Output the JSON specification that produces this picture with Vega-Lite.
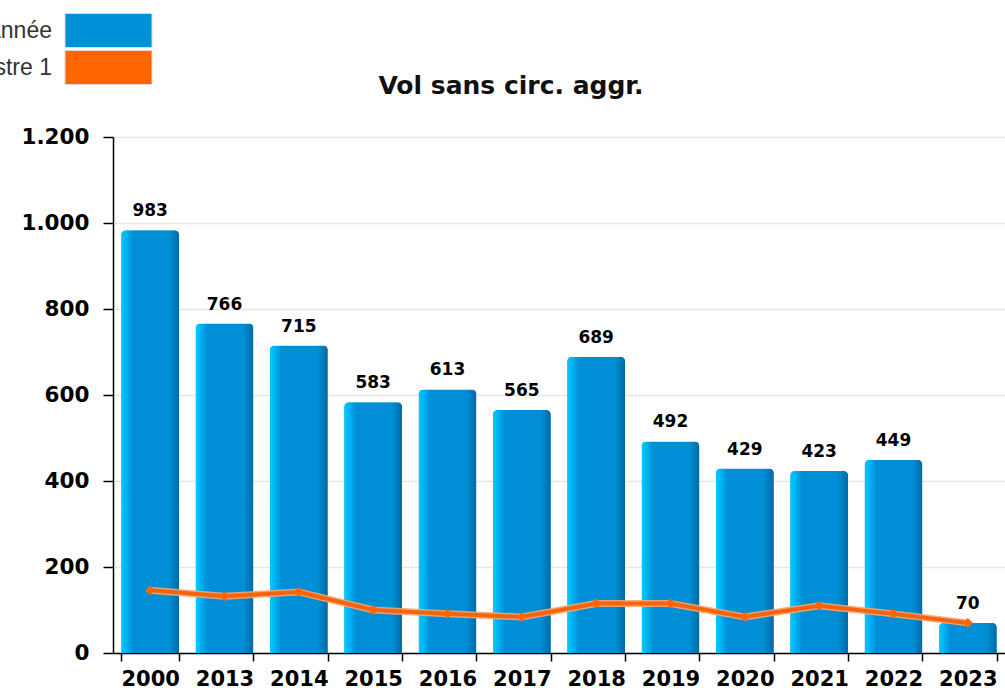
{
  "$schema": "https://vega.github.io/schema/vega-lite/v6.json",
  "width": 892,
  "height": 516,
  "autosize": {"type": "none"},
  "padding": {"left": 113, "top": 137, "right": 0, "bottom": 35},
  "background": "white",
  "title": {
    "text": "Vol sans circ. aggr.",
    "font": "DejaVu Sans",
    "fontSize": 25,
    "fontWeight": "bold",
    "color": "#111111",
    "frame": "group",
    "anchor": "middle",
    "dx": -48,
    "offset": -86
  },
  "data": {
    "values": [
      {"annee": "2000", "valeur": 983, "t1": 146},
      {"annee": "2013", "valeur": 766, "t1": 132},
      {"annee": "2014", "valeur": 715, "t1": 142},
      {"annee": "2015", "valeur": 583, "t1": 100},
      {"annee": "2016", "valeur": 613, "t1": 91},
      {"annee": "2017", "valeur": 565, "t1": 84},
      {"annee": "2018", "valeur": 689, "t1": 115},
      {"annee": "2019", "valeur": 492, "t1": 115},
      {"annee": "2020", "valeur": 429, "t1": 84},
      {"annee": "2021", "valeur": 423, "t1": 110},
      {"annee": "2022", "valeur": 449, "t1": 91},
      {"annee": "2023", "valeur": 70, "t1": 70}
    ]
  },
  "encoding": {
    "x": {
      "field": "annee",
      "type": "nominal",
      "sort": null,
      "scale": {"paddingInner": 0.22, "paddingOuter": 0.11},
      "axis": {
        "title": null,
        "labelAngle": 0,
        "tickBand": "extent",
        "tickSize": 8,
        "tickWidth": 1.5,
        "tickColor": "black",
        "domainColor": "black",
        "domainWidth": 1.5,
        "labelFont": "DejaVu Sans",
        "labelFontSize": 21,
        "labelFontWeight": "bold",
        "labelColor": "black",
        "labelPadding": 7,
        "grid": false
      }
    }
  },
  "layer": [
    {
      "mark": {"type": "bar", "cornerRadiusTopLeft": 5, "cornerRadiusTopRight": 5},
      "encoding": {
        "y": {
          "field": "valeur",
          "type": "quantitative",
          "scale": {"domain": [0, 1200]},
          "axis": {
            "title": null,
            "values": [0, 200, 400, 600, 800, 1000, 1200],
            "labelExpr": "replace(format(datum.value, ','), ',', '.')",
            "tickSize": 10,
            "tickWidth": 1.5,
            "tickColor": "black",
            "domainColor": "black",
            "domainWidth": 1.5,
            "labelFont": "DejaVu Sans",
            "labelFontSize": 21.5,
            "labelFontWeight": "bold",
            "labelColor": "black",
            "labelPadding": 14,
            "grid": true,
            "gridColor": "#e6e6e6",
            "gridWidth": 1.5
          }
        },
        "color": {
          "datum": "Année",
          "type": "nominal",
          "scale": {"domain": ["Année", "Trimestre 1"], "range": ["#0090d8", "#ff6600"]},
          "legend": {
            "title": null,
            "orient": "none",
            "legendX": -113,
            "legendY": -124,
            "symbolType": "M-2.56,-1H2.56V1H-2.56Z",
            "symbolSize": 1156,
            "symbolOffset": 91,
            "labelAlign": "right",
            "labelOffset": -74,
            "rowPadding": -6,
            "padding": 0,
            "labelFont": "Liberation Sans",
            "labelFontSize": 23,
            "labelColor": "#333333",
            "symbolStrokeColor": "#dddddd",
            "symbolStrokeWidth": 1,
            "symbolOpacity": 1
          }
        }
      }
    },
    {
      "mark": {
        "type": "bar",
        "cornerRadiusTopLeft": 5,
        "cornerRadiusTopRight": 5,
        "color": {
          "gradient": "linear",
          "x1": 0, "y1": 0, "x2": 1, "y2": 0,
          "stops": [
            {"offset": 0, "color": "#00ccff"},
            {"offset": 0.1, "color": "#00b0f2"},
            {"offset": 0.2, "color": "#008fd6"},
            {"offset": 0.82, "color": "#008fd6"},
            {"offset": 1, "color": "#006aa3"}
          ]
        }
      },
      "encoding": {
        "y": {"field": "valeur", "type": "quantitative"}
      }
    },
    {
      "mark": {
        "type": "text",
        "font": "DejaVu Sans",
        "fontSize": 17,
        "fontWeight": "bold",
        "color": "black",
        "baseline": "alphabetic",
        "dy": -14
      },
      "encoding": {
        "y": {"field": "valeur", "type": "quantitative"},
        "text": {"field": "valeur", "type": "quantitative"}
      }
    },
    {
      "mark": {"type": "line", "color": "#ffa366", "strokeWidth": 7, "opacity": 0.9},
      "encoding": {
        "y": {"field": "t1", "type": "quantitative"}
      }
    },
    {
      "mark": {"type": "line", "color": "#f46410", "strokeWidth": 4},
      "encoding": {
        "y": {"field": "t1", "type": "quantitative"}
      }
    },
    {
      "mark": {"type": "point", "shape": "diamond", "filled": true, "color": "#ff6600", "size": 100, "opacity": 1},
      "encoding": {
        "y": {"field": "t1", "type": "quantitative"}
      }
    }
  ],
  "config": {
    "view": {"stroke": null}
  }
}
